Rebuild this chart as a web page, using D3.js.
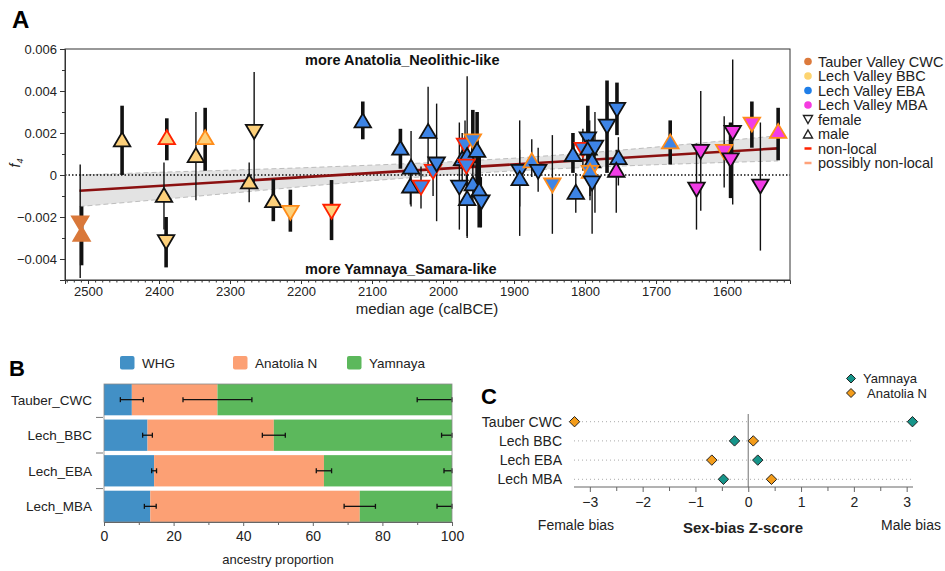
<!DOCTYPE html>
<html>
<head>
<meta charset="utf-8">
<script src="https://cdn.jsdelivr.net/npm/d3@7"></script>
<style>
  body { margin: 0; background: #fff; }
  svg { font-family: "Liberation Sans", Arial, sans-serif; }
</style>
</head>
<body>
<svg id="chart" width="945" height="571"></svg>
<script>
// ---- panel A: f4 per individual ----
// [median age calBCE, f4, lower, upper, sex, group, status, coverage]
const f4Rows = [
  [2511, -0.0023, -0.0049, 0.0005, "F", "CWC", "local", "low"],
  [2509, -0.0028, -0.0043, -0.0015, "M", "CWC", "local", "high"],
  [2452, 0.0017, 0.0, 0.0033, "M", "BBC", "local", "high"],
  [2389, 0.0018, 0.0007, 0.0027, "M", "BBC", "non", "high"],
  [2348, 0.00095, -0.0012, 0.003, "M", "BBC", "local", "low"],
  [2335, 0.0018, 0.0002, 0.0032, "M", "BBC", "poss", "high"],
  [2266, 0.00205, -0.0006, 0.0049, "F", "BBC", "local", "low"],
  [2273, -0.0003, -0.0013, 0.0006, "M", "BBC", "local", "low"],
  [2393, -0.00095, -0.0026, 0.0006, "M", "BBC", "local", "low"],
  [2390, -0.0032, -0.0044, -0.002, "F", "BBC", "local", "high"],
  [2239, -0.0012, -0.0022, -0.0002, "M", "BBC", "local", "high"],
  [2215, -0.0018, -0.0027, -0.0007, "F", "BBC", "poss", "high"],
  [2157, -0.00175, -0.0031, -0.00024, "F", "BBC", "non", "high"],
  [2113, 0.0026, 0.0017, 0.0035, "M", "EBA", "local", "high"],
  [2060, 0.0013, 0.0003, 0.0022, "M", "EBA", "local", "high"],
  [2045, 0.0004, -0.0015, 0.0021, "M", "EBA", "local", "low"],
  [2046, -0.0005, -0.0014, 0.0002, "M", "EBA", "local", "low"],
  [2031, -0.0006, -0.0016, 0.0004, "F", "EBA", "non", "low"],
  [2021, 0.0021, 0.0001, 0.0042, "M", "EBA", "local", "low"],
  [2014, 0.00015, -0.001, 0.0008, "F", "EBA", "non", "low"],
  [2009, 0.0005, -0.0022, 0.0034, "F", "EBA", "local", "low"],
  [1977, -0.0006, -0.0026, 0.0025, "F", "EBA", "local", "low"],
  [1969, 0.0014, 0.0002, 0.0026, "F", "EBA", "non", "low"],
  [1973, 0.0008, -0.0005, 0.002, "M", "EBA", "local", "low"],
  [1966, 0.00095, -0.003, 0.0047, "M", "EBA", "local", "low"],
  [1967, 0.0004, -0.0008, 0.0016, "F", "EBA", "non", "low"],
  [1958, 0.0016, 0.0004, 0.0031, "F", "EBA", "poss", "high"],
  [1952, 0.0012, -0.0005, 0.003, "M", "EBA", "local", "high"],
  [1958, -0.0004, -0.0014, 0.0006, "M", "EBA", "local", "low"],
  [1966, -0.0011, -0.0029, 0.0005, "M", "EBA", "local", "low"],
  [1949, -0.0007, -0.0025, 0.0011, "M", "EBA", "local", "high"],
  [1946, -0.0013, -0.0025, -0.0001, "F", "EBA", "local", "low"],
  [1892, 0.00015, -0.0029, 0.0026, "F", "EBA", "local", "low"],
  [1892, -0.00015, -0.0015, 0.0012, "M", "EBA", "local", "low"],
  [1875, 0.0007, -0.0001, 0.0017, "M", "EBA", "poss", "low"],
  [1866, 0.00015, -0.0008, 0.0013, "F", "EBA", "local", "low"],
  [1846, -0.0005, -0.0028, 0.0019, "F", "EBA", "poss", "low"],
  [1817, 0.001, 0.0001, 0.002, "M", "EBA", "local", "high"],
  [1813, -0.0008, -0.0018, 0.0001, "M", "EBA", "local", "low"],
  [1796, 0.0017, 0.0005, 0.0033, "F", "EBA", "local", "high"],
  [1803, 0.0012, 0.0002, 0.0022, "F", "EBA", "non", "low"],
  [1795, 0.0013, 0.0, 0.0026, "M", "EBA", "local", "high"],
  [1786, 0.0013, -0.0018, 0.003, "F", "EBA", "local", "low"],
  [1790, 0.0007, -0.0005, 0.0018, "M", "EBA", "local", "high"],
  [1793, 0.0001, -0.001, 0.001, "F", "EBA", "poss", "low"],
  [1793, 0.0002, -0.0012, 0.0012, "M", "EBA", "poss", "low"],
  [1790, -0.0004, -0.0028, 0.0012, "F", "EBA", "local", "low"],
  [1769, 0.0023, 0.0001, 0.0045, "F", "EBA", "local", "high"],
  [1755, 0.0031, 0.0019, 0.0044, "F", "EBA", "local", "high"],
  [1753, 0.00085, -0.0005, 0.0018, "M", "EBA", "local", "low"],
  [1756, 0.00025, -0.0018, 0.0012, "M", "MBA", "local", "low"],
  [1680, 0.0016, 0.0005, 0.0026, "M", "EBA", "poss", "high"],
  [1643, -0.0007, -0.0026, 0.0015, "F", "MBA", "local", "low"],
  [1637, 0.0011, -0.0017, 0.004, "F", "MBA", "local", "low"],
  [1604, 0.0011, -0.0006, 0.0028, "F", "MBA", "poss", "low"],
  [1595, 0.0007, -0.0011, 0.0025, "F", "MBA", "local", "high"],
  [1592, 0.002, -0.0014, 0.0055, "F", "MBA", "local", "low"],
  [1565, 0.0024, 0.0013, 0.0035, "F", "MBA", "poss", "high"],
  [1553, -0.00055, -0.0036, 0.0025, "F", "MBA", "local", "low"],
  [1528, 0.0021, 0.0007, 0.0032, "M", "MBA", "poss", "high"]
];

// regression fit and its band
const fitYears = [2512, 1528];
const fitValues = [-0.00075, 0.00127];
const bandYears = [2512, 2400, 2300, 2200, 2100, 2000, 1900, 1800, 1700, 1600, 1528];
const bandLower = [-0.0015, -0.00117, -0.00087, -0.00056, -0.00027, -0.00001, 0.0002, 0.00036, 0.00049, 0.0006, 0.00067];
const bandUpper = [0.0, 0.00013, 0.00023, 0.00034, 0.00047, 0.00061, 0.0008, 0.00104, 0.00133, 0.00164, 0.00187];

const groupKeys = ["CWC", "BBC", "EBA", "MBA"];
const groupNames = ["Tauber Valley CWC", "Lech Valley BBC", "Lech Valley EBA", "Lech Valley MBA"];
const yearTicks = [2500, 2400, 2300, 2200, 2100, 2000, 1900, 1800, 1700, 1600];
const f4Ticks = [-0.004, -0.002, 0, 0.002, 0.004, 0.006];

// ---- panel B: ancestry proportions ----
const popsB = ["Tauber_CWC", "Lech_BBC", "Lech_EBA", "Lech_MBA"];
const compsB = ["WHG", "Anatolia N", "Yamnaya"];
const whg = [8.0, 12.5, 14.4, 13.3];
const anatolia = [24.6, 36.3, 48.8, 60.2];
const yamnaya = [67.4, 51.2, 36.8, 26.5];
const whgSE = [3.3, 1.4, 0.7, 1.7];
const anatoliaSE = [9.9, 3.3, 2.2, 4.5];
const yamnayaSE = [10.0, 3.0, 2.3, 4.3];

// ---- panel C: sex-bias Z ----
const popsC = ["Tauber CWC", "Lech BBC", "Lech EBA", "Lech MBA"];
const zYamnaya = [3.11, -0.26, 0.18, -0.47];
const zAnatolia = [-3.29, 0.095, -0.69, 0.44];
const zTicks = [-3, -2, -1, 0, 1, 2, 3];

const svg = d3.select("#chart");
const minus = s => s.replace("-", "\u2212");

// ============ Panel A ============
const groupColor = d3.scaleOrdinal().domain(groupKeys).range(["#d9783a", "#fdd07a", "#3d84e6", "#f23ce6"]);
const legendColor = d3.scaleOrdinal().domain(groupKeys).range(["#dc7a3c", "#fdd470", "#1f7ee8", "#f53be0"]);
const statusColor = d3.scaleOrdinal().domain(["local", "non", "poss"]).range(["#111", "#ff2200", "#ff8c1a"]);
const barWidth = d3.scaleOrdinal().domain(["low", "high"]).range([1.4, 3.6]);

const xA = d3.scaleLinear().domain([2532.4, 1511.3]).range([65, 790]);
const yA = d3.scaleLinear().domain([-0.005, 0.006]).range([280, 49]);

const pts = f4Rows.map(r => ({year: r[0], f4: r[1], lo: r[2], hi: r[3], sex: r[4], group: r[5], status: r[6], cov: r[7]}));

const gA = svg.append("g");

// band
const band = bandYears.map((y, i) => ({year: y, lo: bandLower[i], hi: bandUpper[i]}));
gA.append("path").datum(band)
  .attr("d", d3.area().x(d => xA(d.year)).y0(d => yA(d.lo)).y1(d => yA(d.hi)))
  .attr("fill", "#e3e3e3");
["lo", "hi"].forEach(k => {
  gA.append("path").datum(band)
    .attr("d", d3.line().x(d => xA(d.year)).y(d => yA(d[k])))
    .attr("fill", "none").attr("stroke", "#bdbdbd").attr("stroke-width", 1)
    .attr("stroke-dasharray", "5,3");
});

// zero line
gA.append("line")
  .attr("x1", xA.range()[0]).attr("x2", xA.range()[1])
  .attr("y1", yA(0)).attr("y2", yA(0))
  .attr("stroke", "#111").attr("stroke-width", 1.6).attr("stroke-dasharray", "1.5,2");

// fit line
gA.append("path").datum(fitYears.map((y, i) => [y, fitValues[i]]))
  .attr("d", d3.line().x(d => xA(d[0])).y(d => yA(d[1])))
  .attr("stroke", "#8b1010").attr("stroke-width", 2.6).attr("fill", "none");

// error bars
gA.selectAll(".eb").data(pts).enter().append("line")
  .attr("x1", d => xA(d.year)).attr("x2", d => xA(d.year))
  .attr("y1", d => yA(d.lo)).attr("y2", d => yA(d.hi))
  .attr("stroke", "#111").attr("stroke-width", d => barWidth(d.cov));

function tri(w, h, up) {
  return up
    ? `M0,${-h / 2}L${w / 2},${h / 2}L${-w / 2},${h / 2}Z`
    : `M0,${h / 2}L${w / 2},${-h / 2}L${-w / 2},${-h / 2}Z`;
}

gA.selectAll(".pt").data(pts).enter().append("path")
  .attr("transform", d => `translate(${xA(d.year)},${yA(d.f4)})`)
  .attr("d", d => tri(16.5, 14, d.sex === "M"))
  .attr("fill", d => groupColor(d.group))
  .attr("stroke", d => d.group === "CWC" ? groupColor(d.group) : statusColor(d.status))
  .attr("stroke-width", 1.8)
  .attr("stroke-linejoin", "miter");

// frame
gA.append("rect")
  .attr("x", xA.range()[0]).attr("y", yA.range()[1])
  .attr("width", xA.range()[1] - xA.range()[0]).attr("height", yA.range()[0] - yA.range()[1])
  .attr("fill", "none").attr("stroke", "#333").attr("stroke-width", 1);

// axes
const axA = gA.append("g").attr("transform", `translate(0,${yA.range()[0]})`)
  .call(d3.axisBottom(xA).tickValues(yearTicks).tickSize(4).tickPadding(3).tickFormat(d3.format("d")));
gA.append("g").attr("transform", `translate(0,${yA.range()[0]})`)
  .call(d3.axisBottom(xA).tickValues(d3.range(2530, 1510, -10)).tickSize(2.5).tickFormat(""))
  .call(g => g.select(".domain").remove());
const ayA = gA.append("g").attr("transform", `translate(${xA.range()[0]},0)`)
  .call(d3.axisLeft(yA).tickValues(f4Ticks).tickSize(5).tickPadding(3)
    .tickFormat(d => d === 0 ? "0" : minus(d3.format(".3f")(d))));
gA.append("g").attr("transform", `translate(${xA.range()[0]},0)`)
  .call(d3.axisLeft(yA).tickValues(d3.range(-0.005, 0.0061, 0.001)).tickSize(3).tickFormat(""))
  .call(g => g.select(".domain").remove());
[axA, ayA].forEach(a => {
  a.selectAll("text").attr("font-size", 13).attr("fill", "#222").attr("font-family", "Liberation Sans, Arial");
  a.select(".domain").attr("stroke", "#333");
});
gA.selectAll(".tick line").attr("stroke", "#333");

gA.append("text").attr("x", 427).attr("y", 314).attr("text-anchor", "middle")
  .attr("font-size", 15).attr("fill", "#222").text("median age (calBCE)");

const fl = gA.append("text").attr("transform", "translate(20,163) rotate(-90)")
  .attr("text-anchor", "middle").attr("font-size", 14).attr("fill", "#222");
fl.append("tspan").attr("font-style", "italic").text("f");
fl.append("tspan").attr("font-size", 9).attr("dy", 3).attr("font-style", "italic").text("4");

gA.append("text").attr("x", 305).attr("y", 65).attr("font-size", 14.5).attr("font-weight", "bold")
  .attr("fill", "#111").text("more Anatolia_Neolithic-like");
gA.append("text").attr("x", 305).attr("y", 274).attr("font-size", 14.5).attr("font-weight", "bold")
  .attr("fill", "#111").text("more Yamnaya_Samara-like");

svg.append("text").attr("x", 12).attr("y", 28).attr("font-size", 24).attr("font-weight", "bold").text("A");

// legend A
const legA = svg.append("g").attr("transform", "translate(808,0)");
const legY = i => 61.5 + i * 14.5;
groupKeys.forEach((k, i) => {
  legA.append("circle").attr("cx", 0).attr("cy", legY(i)).attr("r", 3.8).attr("fill", legendColor(k));
  legA.append("text").attr("x", 10).attr("y", legY(i) + 5).attr("font-size", 14.5).attr("fill", "#222").text(groupNames[i]);
});
[["female", false], ["male", true]].forEach((s, j) => {
  const i = 4 + j;
  legA.append("path").attr("transform", `translate(0,${legY(i)})`).attr("d", tri(9, 8, s[1]))
    .attr("fill", "none").attr("stroke", "#222").attr("stroke-width", 1.4);
  legA.append("text").attr("x", 10).attr("y", legY(i) + 5).attr("font-size", 14.5).attr("fill", "#222").text(s[0]);
});
[["non-local", "#ff2200"], ["possibly non-local", "#ffa27a"]].forEach((s, j) => {
  const i = 6 + j;
  legA.append("line").attr("x1", -3.5).attr("x2", 3.5).attr("y1", legY(i)).attr("y2", legY(i))
    .attr("stroke", s[1]).attr("stroke-width", 2.5);
  legA.append("text").attr("x", 10).attr("y", legY(i) + 5).attr("font-size", 14.5).attr("fill", "#222").text(s[0]);
});

// ============ Panel B ============
const compColor = d3.scaleOrdinal().domain(compsB).range(["#4290c6", "#fca074", "#5cb85c"]);
const xB = d3.scaleLinear().domain([0, 100]).range([104, 452]);
const yB = d3.scaleBand().domain(popsB).range([384, 522]).paddingInner(0.12).paddingOuter(0);

const rowsB = popsB.map((p, i) => ({pop: p, WHG: whg[i], "Anatolia N": anatolia[i], Yamnaya: yamnaya[i]}));
const stackB = d3.stack().keys(compsB)(rowsB);
const seB = [whgSE, anatoliaSE, yamnayaSE];

const gB = svg.append("g");
gB.selectAll(".layer").data(stackB).enter().append("g")
  .attr("fill", d => compColor(d.key))
  .selectAll("rect").data(d => d).enter().append("rect")
  .attr("x", d => xB(d[0])).attr("width", d => xB(d[1]) - xB(d[0]))
  .attr("y", d => yB(d.data.pop)).attr("height", yB.bandwidth());

// error bars at the cumulative edges
stackB.forEach((layer, li) => {
  layer.forEach((d, pi) => {
    const c = d[1], se = seB[li][pi];
    const lo = Math.max(0, c - se), hi = Math.min(100, c + se);
    const yc = yB(d.data.pop) + yB.bandwidth() / 2;
    gB.append("line").attr("x1", xB(lo)).attr("x2", xB(hi)).attr("y1", yc).attr("y2", yc)
      .attr("stroke", "#111").attr("stroke-width", 1.3);
    [lo, hi].forEach(v => {
      gB.append("line").attr("x1", xB(v)).attr("x2", xB(v)).attr("y1", yc - 2.5).attr("y2", yc + 2.5)
        .attr("stroke", "#111").attr("stroke-width", 1.3);
    });
  });
});

gB.append("rect").attr("x", xB(0)).attr("y", 384).attr("width", xB(100) - xB(0)).attr("height", 138)
  .attr("fill", "none").attr("stroke", "#8a8a8a").attr("stroke-width", 0.8);

// separators on left
popsB.slice(1).forEach(p => {
  const yy = yB(p) - yB.step() * yB.paddingInner() / 2;
  gB.append("line").attr("x1", 96).attr("x2", 103).attr("y1", yy).attr("y2", yy)
    .attr("stroke", "#777").attr("stroke-width", 1);
});
popsB.forEach(p => {
  gB.append("text").attr("x", 92).attr("y", yB(p) + yB.bandwidth() / 2 + 5)
    .attr("text-anchor", "end").attr("font-size", 13.5).attr("fill", "#222").text(p);
});

const axB = gB.append("g").attr("transform", "translate(0,522)")
  .call(d3.axisBottom(xB).tickValues(d3.range(0, 101, 20)).tickSize(4).tickPadding(5));
gB.append("g").attr("transform", "translate(0,522)")
  .call(d3.axisBottom(xB).tickValues(d3.range(10, 100, 20)).tickSize(3).tickFormat(""))
  .call(g => g.select(".domain").remove());
axB.selectAll("text").attr("font-size", 14).attr("fill", "#222").attr("font-family", "Liberation Sans, Arial");
axB.select(".domain").attr("stroke", "#666");
gB.selectAll(".tick line").attr("stroke", "#666");

gB.append("text").attr("x", xB(50)).attr("y", 564).attr("text-anchor", "middle")
  .attr("font-size", 13).attr("fill", "#222").text("ancestry proportion");

const legBx = [120, 233, 347];
compsB.forEach((c, i) => {
  gB.append("rect").attr("x", legBx[i]).attr("y", 356).attr("width", 14.5).attr("height", 13.5).attr("rx", 2)
    .attr("fill", compColor(c));
  gB.append("text").attr("x", legBx[i] + 22).attr("y", 368).attr("font-size", 13.5).attr("fill", "#222").text(c);
});

svg.append("text").attr("x", 9).attr("y", 376).attr("font-size", 22).attr("font-weight", "bold").text("B");

// ============ Panel C ============
const xC = d3.scaleLinear().domain([-3.3, 3.12]).range([574, 913]);
const yC = d3.scalePoint().domain(popsC).range([421.7, 479.3]);
const gC = svg.append("g");

popsC.forEach(p => {
  gC.append("line").attr("x1", xC.range()[0]).attr("x2", xC.range()[1]).attr("y1", yC(p)).attr("y2", yC(p))
    .attr("stroke", "#aaa").attr("stroke-width", 1).attr("stroke-dasharray", "1,3");
  gC.append("text").attr("x", 562).attr("y", yC(p) + 5).attr("text-anchor", "end")
    .attr("font-size", 14).attr("fill", "#222").text(p);
});
gC.append("line").attr("x1", xC(0)).attr("x2", xC(0)).attr("y1", 414).attr("y2", 487)
  .attr("stroke", "#888").attr("stroke-width", 1.2);

const axC = gC.append("g").attr("transform", "translate(0,487)")
  .call(d3.axisBottom(xC).tickValues(zTicks).tickSize(5).tickPadding(5).tickFormat(d => minus(String(d))));
gC.append("g").attr("transform", "translate(0,487)")
  .call(d3.axisBottom(xC).tickValues(d3.range(-2.5, 3, 1)).tickSize(4).tickFormat(""))
  .call(g => g.select(".domain").remove());
axC.selectAll("text").attr("font-size", 14).attr("fill", "#222").attr("font-family", "Liberation Sans, Arial");
axC.select(".domain").attr("stroke", "#666").attr("d", `M${xC.range()[0]},0H${xC.range()[1]}`);
gC.selectAll(".tick line").attr("stroke", "#666");

const zColor = d3.scaleOrdinal().domain(["Yamnaya", "Anatolia N"]).range(["#16958a", "#f39c1a"]);
const diamond = "M0,-5.2L5.2,0L0,5.2L-5.2,0Z";
[["Yamnaya", zYamnaya], ["Anatolia N", zAnatolia]].forEach(s => {
  gC.selectAll(null).data(s[1]).enter().append("path")
    .attr("transform", (d, i) => `translate(${xC(d)},${yC(popsC[i])})`)
    .attr("d", diamond).attr("fill", zColor(s[0])).attr("stroke", "#222").attr("stroke-width", 1);
});

gC.append("text").attr("x", 576).attr("y", 530).attr("text-anchor", "middle")
  .attr("font-size", 14).attr("fill", "#222").text("Female bias");
gC.append("text").attr("x", 743).attr("y", 533).attr("text-anchor", "middle")
  .attr("font-size", 15).attr("font-weight", "bold").attr("fill", "#222").text("Sex-bias Z-score");
gC.append("text").attr("x", 911).attr("y", 530).attr("text-anchor", "middle")
  .attr("font-size", 14).attr("fill", "#222").text("Male bias");

[["Yamnaya", 378.5], ["Anatolia N", 393]].forEach(s => {
  gC.append("path").attr("transform", `translate(851,${s[1]})`).attr("d", "M0,-4.5L4.5,0L0,4.5L-4.5,0Z")
    .attr("fill", zColor(s[0])).attr("stroke", "#222").attr("stroke-width", 1);
  gC.append("text").attr("x", s[0] === "Yamnaya" ? 863 : 867).attr("y", s[1] + 4.5)
    .attr("font-size", 13).attr("fill", "#222").text(s[0]);
});

svg.append("text").attr("x", 481).attr("y", 404).attr("font-size", 22).attr("font-weight", "bold").text("C");
</script>
</body>
</html>
